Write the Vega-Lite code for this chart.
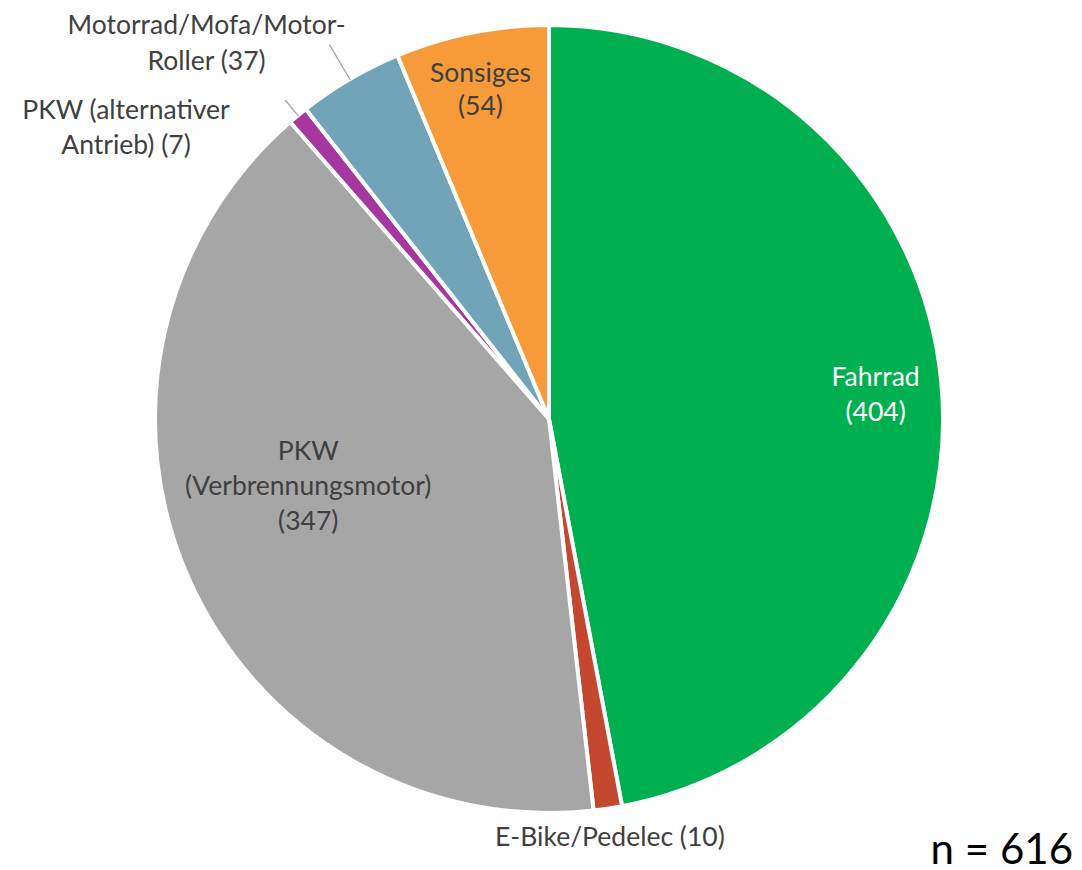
{
  "$schema": "https://vega.github.io/schema/vega-lite/v6.json",
  "width": 1066,
  "height": 838,
  "padding": {"left": 16, "top": 0, "right": 0, "bottom": 32},
  "autosize": {"type": "none"},
  "background": "white",
  "config": {"view": {"stroke": null}},
  "title": {"text": "n = 616", "orient": "bottom", "anchor": "end", "frame": "group", "fontSize": 42, "font": "Lato", "fontWeight": "normal", "color": "#000000", "offset": -21, "dx": -9, "baseline": "top"},
  "data": {"values": [
    {"kategorie": "Fahrrad", "anzahl": 404, "rang": 1, "label": "Fahrrad\n(404)"},
    {"kategorie": "E-Bike/Pedelec", "anzahl": 10, "rang": 2, "label": "E-Bike/Pedelec (10)"},
    {"kategorie": "PKW (Verbrennungsmotor)", "anzahl": 347, "rang": 3, "label": "PKW\n(Verbrennungsmotor)\n(347)"},
    {"kategorie": "PKW (alternativer Antrieb)", "anzahl": 7, "rang": 4, "label": "PKW (alternativer\nAntrieb) (7)"},
    {"kategorie": "Motorrad/Mofa/Motor-Roller", "anzahl": 37, "rang": 5, "label": "Motorrad/Mofa/Motor-\nRoller (37)"},
    {"kategorie": "Sonsiges", "anzahl": 54, "rang": 6, "label": "Sonsiges\n(54)"}
  ]},
  "encoding": {
    "theta": {"field": "anzahl", "type": "quantitative", "stack": true},
    "order": {"field": "rang", "type": "quantitative"}
  },
  "layer": [
    {
      "mark": {"type": "arc", "outerRadius": 394, "stroke": "white", "strokeWidth": 4},
      "encoding": {
        "color": {"field": "kategorie", "type": "nominal", "legend": null,
          "scale": {"domain": ["Fahrrad", "E-Bike/Pedelec", "PKW (Verbrennungsmotor)", "PKW (alternativer Antrieb)", "Motorrad/Mofa/Motor-Roller", "Sonsiges"],
                    "range": ["#00B050", "#C4472F", "#A6A6A6", "#A5379F", "#71A4B8", "#F69A3A"]}}
      }
    },
    {
      "mark": {"type": "arc", "outerRadius": 414, "innerRadius": 393, "padAngle": 3, "fillOpacity": 0, "strokeWidth": 1.3, "stroke": "#A6A6A6"},
      "encoding": {
        "strokeOpacity": {"condition": {"test": "datum.rang == 4", "value": 1}, "value": 0}
      }
    },
    {
      "mark": {"type": "arc", "outerRadius": 434, "innerRadius": 393, "padAngle": 3, "fillOpacity": 0, "strokeWidth": 1.3, "stroke": "#A6A6A6"},
      "encoding": {
        "strokeOpacity": {"condition": {"test": "datum.rang == 5", "value": 1}, "value": 0}
      }
    },
    {
      "mark": {"type": "text", "radius": 327, "dx": 1, "dy": -11, "font": "Lato", "fontSize": 26.5, "lineHeight": 35, "lineBreak": "\n", "fill": "#FFFFFF", "align": "center", "baseline": "middle"},
      "encoding": {"text": {"condition": {"test": "datum.rang == 1", "field": "label"}, "value": ""}}
    },
    {
      "mark": {"type": "text", "radius": 421, "dx": -2, "dy": 3, "font": "Lato", "fontSize": 26.5, "lineHeight": 35, "lineBreak": "\n", "fill": "#404040", "align": "center", "baseline": "middle"},
      "encoding": {"text": {"condition": {"test": "datum.rang == 2", "field": "label"}, "value": ""}}
    },
    {
      "mark": {"type": "text", "radius": 250, "dx": -12, "dy": -68, "font": "Lato", "fontSize": 26.5, "lineHeight": 35, "lineBreak": "\n", "fill": "#404040", "align": "center", "baseline": "middle"},
      "encoding": {"text": {"condition": {"test": "datum.rang == 3", "field": "label"}, "value": ""}}
    },
    {
      "mark": {"type": "text", "radius": 400, "dx": -168, "dy": 0, "font": "Lato", "fontSize": 26.5, "lineHeight": 35, "lineBreak": "\n", "fill": "#404040", "align": "center", "baseline": "middle"},
      "encoding": {"text": {"condition": {"test": "datum.rang == 4", "field": "label"}, "value": ""}}
    },
    {
      "mark": {"type": "text", "radius": 420, "dx": -130, "dy": -31, "font": "Lato", "fontSize": 26.5, "lineHeight": 36, "lineBreak": "\n", "fill": "#404040", "align": "center", "baseline": "middle"},
      "encoding": {"text": {"condition": {"test": "datum.rang == 5", "field": "label"}, "value": ""}}
    },
    {
      "mark": {"type": "text", "radius": 334, "dx": -3, "dy": -17, "font": "Lato", "fontSize": 26.5, "lineHeight": 33, "lineBreak": "\n", "fill": "#404040", "align": "center", "baseline": "middle"},
      "encoding": {"text": {"condition": {"test": "datum.rang == 6", "field": "label"}, "value": ""}}
    }
  ]
}
